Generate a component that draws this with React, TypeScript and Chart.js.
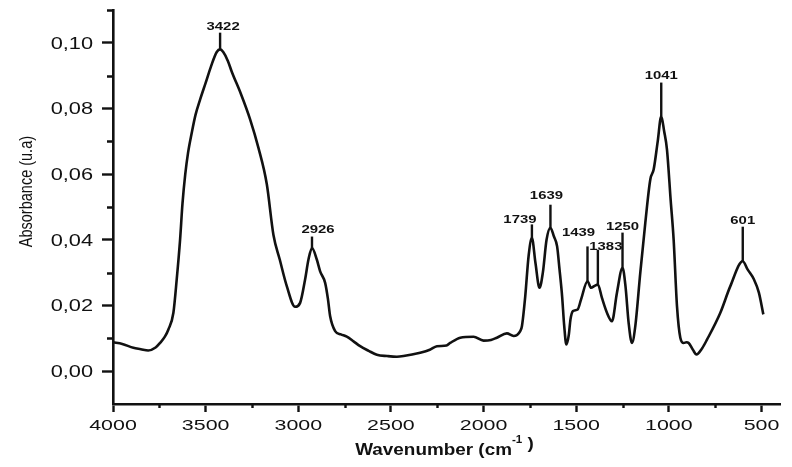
import React, { useEffect, useRef } from "react";
import { Chart, registerables } from "chart.js";

Chart.register(...registerables);

// ---- data ----
const wavenumbers = [
  4000, 3950, 3890, 3850, 3810, 3770, 3746, 3720, 3701, 3674, 3656, 3638, 3625, 3610, 3595, 3575, 3555, 3530,
  3500, 3470, 3440, 3422, 3405, 3380, 3359, 3310, 3260, 3215, 3170, 3134, 3100, 3062, 3017, 2990, 2963, 2945,
  2926, 2900, 2882, 2855, 2840, 2828, 2801, 2770, 2738, 2700, 2666, 2620, 2576, 2520, 2468, 2432, 2342, 2290,
  2252, 2200, 2180, 2126, 2054, 2000, 1960, 1928, 1874, 1838, 1802, 1793, 1775, 1757, 1739, 1720, 1698, 1680,
  1660, 1639, 1620, 1603, 1590, 1576, 1565, 1553, 1540, 1531, 1517, 1492, 1474, 1439, 1420, 1400, 1383, 1361,
  1334, 1307, 1280, 1250, 1234, 1217, 1199, 1181, 1154, 1127, 1100, 1082, 1060, 1041, 1025, 1010, 990, 974, 956,
  938, 920, 905, 893, 870, 851, 820, 794, 722, 668, 601, 575, 541, 514, 490,
];
const absorbance = [
  0.0088, 0.0083, 0.0071, 0.0067, 0.0063, 0.0072, 0.0086, 0.0105, 0.0127, 0.0178, 0.028, 0.04, 0.051, 0.06,
  0.0665, 0.0726, 0.078, 0.0827, 0.0878, 0.093, 0.0972, 0.098, 0.0972, 0.0945, 0.0912, 0.0845, 0.0767, 0.068,
  0.057, 0.0415, 0.034, 0.0259, 0.0196, 0.0208, 0.028, 0.034, 0.0375, 0.034, 0.0304, 0.0269, 0.022, 0.0167,
  0.0122, 0.0112, 0.0105, 0.009, 0.0076, 0.0062, 0.005, 0.0046, 0.0044, 0.0046, 0.0056, 0.0065, 0.0076, 0.0078,
  0.0086, 0.0102, 0.0105, 0.0093, 0.0095, 0.0102, 0.0115, 0.0107, 0.0122, 0.0137, 0.0228, 0.035, 0.0406, 0.033,
  0.0254, 0.03, 0.04, 0.0437, 0.041, 0.038, 0.031, 0.0228, 0.014, 0.0081, 0.011, 0.0157, 0.0183, 0.0188, 0.0218,
  0.0274, 0.0254, 0.026, 0.0264, 0.0223, 0.0178, 0.0152, 0.0239, 0.0315, 0.0259, 0.0147, 0.0086, 0.0137, 0.03,
  0.0452, 0.0584, 0.0614, 0.07, 0.0776, 0.073, 0.0675, 0.052, 0.04, 0.0198, 0.0102, 0.0086, 0.0088, 0.0086,
  0.0065, 0.0051, 0.007, 0.0096, 0.0178, 0.0259, 0.0335, 0.031, 0.028, 0.0239, 0.0173,
];

const xTicks = [4000, 3500, 3000, 2500, 2000, 1500, 1000, 500];
const xMinorTicks = [3750, 3250, 2750, 2250, 1750, 1250, 750];
const yTicks = [0, 0.02, 0.04, 0.06, 0.08, 0.1];
const yMinorTicks = [0.01, 0.03, 0.05, 0.07, 0.09, 0.11];

const peakWavenumbers = [3422, 2926, 1739, 1639, 1439, 1383, 1250, 1041, 601];
const peakStickTop = [0.1031, 0.041, 0.0447, 0.0507, 0.038, 0.037, 0.0422, 0.0879, 0.044];

// annotation label layout (px offsets)
const peakLabelDx = [3, 6, -12, -4, -9, 8, 0, 0, 0];
const peakLabelDy = [-7, -7, -5, -10, -14, -4, -7, -7, -7];

const xTitle = "Wavenumber (cm";
const xTitleSup = "-1";
const xTitleEnd = ")";
const yTitle = "Absorbance (u.a)";

const FONT = '"Liberation Sans", Arial, sans-serif';
const INK = "#111";

function stretchedText(
  ctx: CanvasRenderingContext2D,
  text: string,
  x: number,
  y: number,
  align: CanvasTextAlign,
  sx: number
) {
  ctx.save();
  ctx.translate(x, y);
  ctx.scale(sx, 1);
  ctx.textAlign = align;
  ctx.textBaseline = "alphabetic";
  ctx.fillText(text, 0, 0);
  ctx.restore();
}

const decorPlugin = {
  id: "decor",
  afterDraw(chart: any) {
    const ctx: CanvasRenderingContext2D = chart.ctx;
    const xs = chart.scales.x;
    const ys = chart.scales.y;
    const area = chart.chartArea;
    ctx.save();
    ctx.strokeStyle = INK;
    ctx.fillStyle = INK;
    ctx.lineWidth = 2.4;

    // minor ticks
    ctx.beginPath();
    yMinorTicks.forEach((v) => {
      const py = Math.round(ys.getPixelForValue(v)) + 0.5;
      ctx.moveTo(area.left, py);
      ctx.lineTo(area.left - 6, py);
    });
    xMinorTicks.forEach((v) => {
      const px = Math.round(xs.getPixelForValue(v)) + 0.5;
      ctx.moveTo(px, area.bottom);
      ctx.lineTo(px, area.bottom + 4);
    });
    ctx.stroke();

    // tick labels
    ctx.font = `16px ${FONT}`;
    yTicks.forEach((v) => {
      const py = ys.getPixelForValue(v);
      stretchedText(ctx, v.toFixed(2).replace(".", ","), area.left - 20, py + 5.7, "right", 1.36);
    });
    ctx.font = `15.5px ${FONT}`;
    xTicks.forEach((v) => {
      const px = xs.getPixelForValue(v);
      stretchedText(ctx, String(v), px, area.bottom + 26, "center", 1.38);
    });

    // peak sticks and labels
    ctx.lineWidth = 2.4;
    peakWavenumbers.forEach((w, i) => {
      const idx = wavenumbers.indexOf(w);
      const px = xs.getPixelForValue(w);
      const pyPeak = ys.getPixelForValue(absorbance[idx]);
      const pyTop = ys.getPixelForValue(peakStickTop[i]);
      ctx.beginPath();
      ctx.moveTo(px, pyPeak);
      ctx.lineTo(px, pyTop);
      ctx.stroke();
      ctx.font = `bold 10.8px ${FONT}`;
      stretchedText(ctx, String(w), px + peakLabelDx[i], pyTop + peakLabelDy[i] + 3.9, "center", 1.38);
    });

    // x title
    const sxT = 1.16;
    ctx.font = `bold 16.3px ${FONT}`;
    const wMain = ctx.measureText(xTitle).width * sxT;
    ctx.font = `bold 10px ${FONT}`;
    const wSup = ctx.measureText(xTitleSup).width * sxT;
    ctx.font = `bold 16.3px ${FONT}`;
    const wEnd = ctx.measureText(" " + xTitleEnd).width * sxT;
    const total = wMain + wSup + wEnd;
    const cx = (area.left + area.right) / 2 - 2;
    let tx = cx - total / 2;
    const base = area.bottom + 51;
    stretchedText(ctx, xTitle, tx, base, "left", sxT);
    tx += wMain;
    ctx.font = `bold 10px ${FONT}`;
    stretchedText(ctx, xTitleSup, tx, base - 12, "left", sxT);
    tx += wSup;
    ctx.font = `bold 16.3px ${FONT}`;
    stretchedText(ctx, " " + xTitleEnd, tx, base - 6, "left", sxT);

    // y title
    ctx.save();
    ctx.font = `14.5px ${FONT}`;
    ctx.translate(32, ys.getPixelForValue(0.0547));
    ctx.rotate(-Math.PI / 2);
    ctx.scale(1, 1.25);
    ctx.textAlign = "center";
    ctx.textBaseline = "alphabetic";
    ctx.fillText(yTitle, 0, 0);
    ctx.restore();

    ctx.restore();
  },
};

export default function App() {
  const ref = useRef<HTMLCanvasElement | null>(null);

  useEffect(() => {
    document.body.style.margin = "0";
    document.body.style.background = "#fff";
    const canvas = ref.current;
    if (!canvas) return;
    const chart = new Chart(canvas, {
      type: "line",
      data: {
        datasets: [
          {
            data: wavenumbers.map((w, i) => ({ x: w, y: absorbance[i] })),
            borderColor: INK,
            borderWidth: 2.6,
            pointRadius: 0,
            cubicInterpolationMode: "monotone",
            fill: false,
          },
        ],
      },
      options: {
        animation: false,
        responsive: false,
        devicePixelRatio: 1,
        layout: { padding: { top: 10, right: 12, left: 0, bottom: 0 } },
        plugins: { legend: { display: false }, tooltip: { enabled: false } },
        scales: {
          x: {
            type: "linear",
            reverse: true,
            min: 400,
            max: 4000,
            afterBuildTicks: (s: any) => {
              s.ticks = xTicks.map((v) => ({ value: v }));
            },
            afterFit: (s: any) => {
              s.height = 63;
            },
            ticks: { display: false },
            grid: {
              drawOnChartArea: false,
              drawTicks: true,
              tickLength: 8,
              tickWidth: 2.4,
              tickColor: INK,
              color: INK,
            },
            border: { display: true, color: INK, width: 2.6 },
          },
          y: {
            type: "linear",
            min: -0.01,
            max: 0.11,
            afterBuildTicks: (s: any) => {
              s.ticks = yTicks.map((v) => ({ value: v }));
            },
            afterFit: (s: any) => {
              s.width = 113;
            },
            ticks: { display: false },
            grid: {
              drawOnChartArea: false,
              drawTicks: true,
              tickLength: 11,
              tickWidth: 2.4,
              tickColor: INK,
              color: INK,
            },
            border: { display: true, color: INK, width: 2.6 },
          },
        },
      },
      plugins: [decorPlugin],
    } as any);
    return () => chart.destroy();
  }, []);

  return (
    <div style={{ width: 792, height: 467, background: "#fff" }}>
      <canvas ref={ref} width={792} height={467} style={{ display: "block", width: 792, height: 467 }} />
    </div>
  );
}
